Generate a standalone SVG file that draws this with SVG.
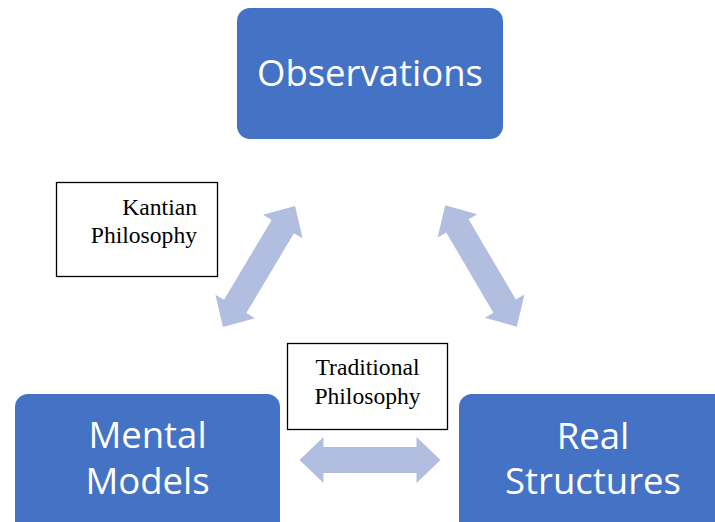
<svg xmlns="http://www.w3.org/2000/svg" width="715" height="522" viewBox="0 0 715 522">
<style>
.box{fill:#4472C4}
.bt{font-family:"Open Sans","Noto Sans",sans-serif;font-size:36.5px;fill:#ffffff;text-anchor:middle}
.lbl{fill:#ffffff;stroke:#000000;stroke-width:1.3}
.lt{font-family:"Liberation Serif","Times New Roman",serif;font-size:23.6px;fill:#000000}
.arr{fill:#B1BEE0}
</style>
<defs>
<polygon id="dbl" points="-70.5,0 -46.5,-23 -46.5,-13 46.5,-13 46.5,-23 70.5,0 46.5,23 46.5,13 -46.5,13 -46.5,23"/>
</defs>
<g id="connectors">
<use href="#dbl" class="arr" transform="translate(259,266.5) rotate(-59.2)"/>
<use href="#dbl" class="arr" transform="translate(481,266) rotate(59.5)"/>
<use href="#dbl" class="arr" transform="translate(370,460)"/>
</g>
<g id="observations">
<rect class="box" x="237" y="8" width="266" height="131" rx="13"/>
<text class="bt" x="370" y="86">Observations</text>
</g>
<g id="mental-models">
<rect class="box" x="15" y="394" width="265" height="145" rx="13"/>
<text class="bt" x="147.5" y="448">Mental</text>
<text class="bt" x="147.5" y="494">Models</text>
</g>
<g id="real-structures">
<rect class="box" x="459" y="394" width="270" height="145" rx="13"/>
<text class="bt" x="593" y="449">Real</text>
<text class="bt" x="593" y="494">Structures</text>
</g>
<g id="kantian">
<rect class="lbl" x="56.5" y="182.5" width="161" height="94"/>
<text class="lt" x="197" y="215" text-anchor="end">Kantian</text>
<text class="lt" x="197" y="243" text-anchor="end">Philosophy</text>
</g>
<g id="traditional">
<rect class="lbl" x="287.5" y="343.5" width="160" height="86"/>
<text class="lt" x="367.5" y="375" text-anchor="middle">Traditional</text>
<text class="lt" x="367.5" y="404" text-anchor="middle">Philosophy</text>
</g>
</svg>
